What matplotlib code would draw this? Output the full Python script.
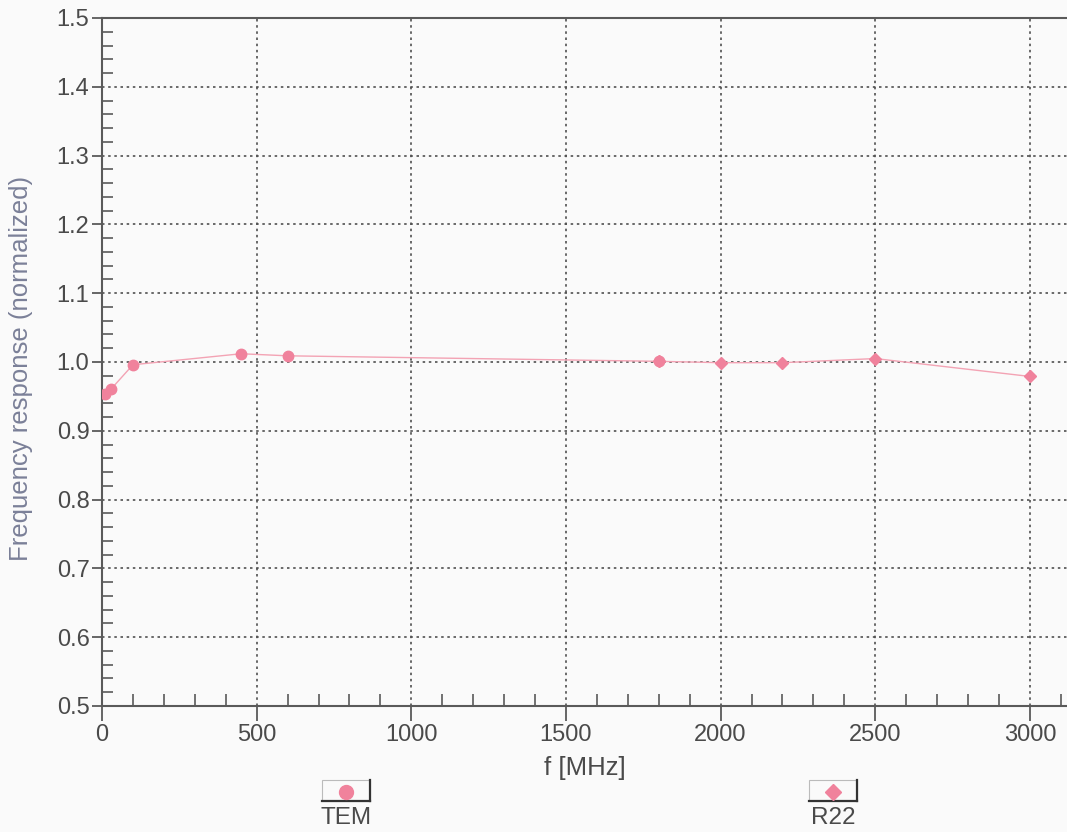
import numpy as np
import matplotlib.pyplot as plt
from matplotlib.patches import Rectangle
from matplotlib.lines import Line2D
from matplotlib.ticker import MultipleLocator

plt.rcParams['font.family'] = ['Liberation Sans', 'DejaVu Sans']

# measured points
tem_f = [10, 30, 100, 450, 600, 1800]
tem_resp = [0.953, 0.961, 0.996, 1.012, 1.009, 1.001]
r22_f = [1800, 2000, 2200, 2500, 3000]
r22_resp = [1.001, 0.999, 0.999, 1.005, 0.979]

x_ticks = [0, 500, 1000, 1500, 2000, 2500, 3000]
y_ticks = [0.5, 0.6, 0.7, 0.8, 0.9, 1.0, 1.1, 1.2, 1.3, 1.4, 1.5]

pink = '#f0829c'
line_pink = '#f3a3b4'
txt = '#4a4a4a'
spine_col = '#5a5a5a'

fig = plt.figure(figsize=(10.67, 8.32), dpi=100, facecolor='#fafafa')
ax = fig.add_axes([102 / 1067, 126 / 832, 965 / 1067, 688 / 832])
ax.set_facecolor('#fafafa')

ax.plot(tem_f, tem_resp, color=line_pink, lw=1.0, marker='o', ms=7.5,
        mfc=pink, mec=pink, zorder=3)
ax.plot(r22_f, r22_resp, color=line_pink, lw=1.0, marker='D', ms=6.5,
        mfc=pink, mec=pink, zorder=3)

ax.set_xlim(0, 3120)
ax.set_ylim(0.5, 1.5)
ax.set_xticks(x_ticks)
ax.set_yticks(y_ticks)
ax.set_yticklabels([f'{v:.1f}' for v in y_ticks])
ax.xaxis.set_minor_locator(MultipleLocator(100))
ax.yaxis.set_minor_locator(MultipleLocator(0.02))

ax.tick_params(axis='x', which='major', direction='out', length=11, width=1.3,
               color=spine_col, labelsize=17, labelcolor=txt, pad=2)
ax.tick_params(axis='x', which='minor', direction='in', length=9, width=1.2,
               color=spine_col)
ax.tick_params(axis='y', which='major', direction='out', length=7, width=1.3,
               color=spine_col, labelsize=17, labelcolor=txt, pad=2)
ax.tick_params(axis='y', which='minor', direction='in', length=8, width=1.2,
               color=spine_col)

ax.grid(True, which='major', color='#505050', linestyle=(0, (1.5, 2.2)), lw=1.2)

for s in ['left', 'bottom', 'top']:
    ax.spines[s].set_color(spine_col)
    ax.spines[s].set_linewidth(1.5)
ax.spines['right'].set_visible(False)

ax.set_xlabel('f [MHz]', fontsize=18.5, color=txt, labelpad=7)
ax.set_ylabel('Frequency response (normalized)', fontsize=18.5, color='#7b8098')
ax.yaxis.set_label_coords(-0.0715, 0.49)

# legend boxes below the plot
W, H = 1067.0, 832.0
def legend_item(x0, x1, label, marker, ms):
    y0, y1 = 780, 801
    box = Rectangle((x0 / W, 1 - y1 / H), (x1 - x0) / W, (y1 - y0) / H,
                    transform=fig.transFigure, facecolor='#fafafa',
                    edgecolor='#bbbbbb', lw=0.8)
    fig.add_artist(box)
    # darker right and bottom edges
    fig.add_artist(Line2D([x1 / W, x1 / W], [1 - y0 / H, 1 - y1 / H],
                          transform=fig.transFigure, color='#333333', lw=1.6))
    fig.add_artist(Line2D([x0 / W, x1 / W], [1 - y1 / H, 1 - y1 / H],
                          transform=fig.transFigure, color='#333333', lw=1.6))
    xc = (x0 + x1) / 2
    fig.add_artist(Line2D([xc / W], [1 - 792 / H], transform=fig.transFigure,
                          marker=marker, ms=ms, mfc=pink, mec=pink, ls='none'))
    fig.text(xc / W, 1 - 818 / H, label, ha='center', va='center',
             fontsize=17.5, color=txt)

legend_item(322, 370, 'TEM', 'o', 10)
legend_item(809, 857, 'R22', 'D', 8)

fig.savefig('out.png', dpi=100, facecolor=fig.get_facecolor())
